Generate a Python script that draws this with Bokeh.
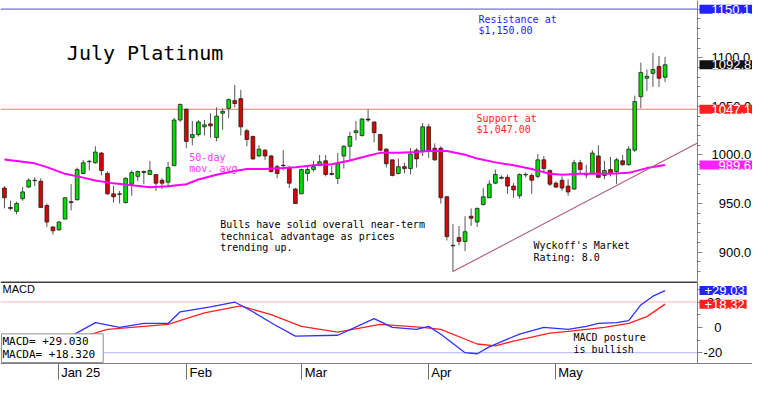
from bokeh.plotting import figure
from bokeh.layouts import column
from bokeh.models import (Range1d, LinearAxis, FixedTicker, Label, ColumnDataSource)
from bokeh.embed import file_html
from bokeh.resources import INLINE

# ---------------- data ----------------
open_ = [966, 946, 942, 955, 967, 973.5, 973, 948, 926, 923,
         934, 952, 954, 981, 993, 992, 1002, 981, 960, 960,
         951, 970, 978, 983, 980, 980, 974, 972, 989, 1036,
         1047, 1018, 1021, 1029, 1032, 1018, 1043, 1048, 1056, 1058,
         1025, 1019, 999, 1005, 999, 988, 989.5, 987, 965, 960,
         981, 985, 989, 994, 981, 976, 999, 1009, 1023, 1020,
         1037, 1034, 1021, 1006, 995, 981, 988, 986, 1005, 1004,
         1029, 1007, 1007, 957, 907, 915, 911, 937, 931, 949,
         956, 971, 976, 977, 968, 958, 979.5, 979, 978, 995,
         984, 971, 974, 968, 965, 992, 979.5, 981, 999, 979,
         985, 983, 994, 990, 1005, 1060, 1079, 1084, 1091, 1080]
high = [968, 953, 952, 967, 976, 977, 976, 950, 926, 932,
        956, 970, 987, 995, 995, 1009, 1003, 983, 968, 963,
        977, 984, 984, 984, 994, 980, 976, 993, 1038, 1053,
        1048, 1035, 1036, 1036, 1043, 1049, 1048, 1058, 1072, 1067,
        1027, 1020, 1010, 1006, 1000, 990, 1005, 989, 966, 986,
        988, 994, 1000, 1000, 989, 1002, 1010, 1024, 1035, 1038,
        1047, 1034, 1022, 1007, 995, 996, 992, 1007, 1007, 1033,
        1032, 1012, 1009, 958, 929, 927, 937, 945, 946, 966,
        974, 985, 979, 980, 971, 981, 982, 981, 1001, 999,
        985, 973, 978, 975, 995, 995, 990, 1005, 1010, 994,
        998, 997, 1000, 1009, 1061, 1095, 1088, 1105, 1102, 1101]
low = [945, 943, 939, 953, 966, 968, 946, 926, 918, 922,
       934, 943, 953, 980, 984, 991, 979, 959, 951, 950,
       950, 958, 973, 970, 980, 963, 965, 968, 989, 1034,
       1007, 1010, 1019, 1020, 1018, 1014, 1026, 1038, 1049, 1020,
       1009, 995, 998, 995, 982, 976, 984, 966, 950, 960,
       973, 983, 989, 978, 979, 970, 986, 995, 1015, 1019,
       1034, 1013, 1004, 987, 978, 980, 981, 980, 987, 999,
       997, 994, 950, 912, 880, 907, 901, 927, 926, 948,
       956, 970, 975, 960, 956, 955, 977, 960, 976, 983,
       968, 966, 963, 958, 964, 981, 976, 980, 976, 975,
       978, 970, 989, 989, 1003, 1048, 1066, 1070, 1070, 1075]
close = [956, 945, 950, 962, 974, 974, 946, 931, 922, 931,
         956, 951, 985, 992, 993.5, 1003, 984, 960, 957, 959.5,
         976, 982, 983, 982, 984, 971, 971, 987, 1036, 1052,
         1014, 1021, 1034, 1031, 1030, 1040, 1045, 1057, 1053, 1029,
         1016, 996, 1006, 999, 983, 981, 989, 971, 950, 985,
         985, 988, 993, 980, 980, 991, 1009, 1019, 1025, 1037,
         1036, 1023, 1005, 991, 979, 988, 986, 1001, 996, 1029,
         1004, 995, 956, 916, 906.5, 911, 921, 935, 945, 957,
         970, 980, 977, 968, 964, 980, 980, 974, 995, 986,
         970, 967, 966, 962, 992, 985, 980, 1002, 977, 984,
         981, 995, 990, 1006, 1055, 1085, 1081, 1088, 1079, 1092.8]

# 50-day moving average, sampled points (trading-day index, price)
ma_idx = [0, 5, 7, 10, 13, 15, 18, 21, 24, 27, 30, 32, 35, 38, 40, 43, 46, 48,
          51, 54, 57, 60, 62, 65, 68, 70, 73, 76, 78, 81, 84, 87, 90, 92, 95,
          98, 100, 103, 106, 109]
ma_val = [995.3, 991.4, 987.5, 980.6, 976.7, 973.8, 970.8, 968.9, 966.9, 967.9,
          969.9, 974.8, 979.7, 983.6, 985.5, 985.5, 986.5, 987.5, 989.5, 990.4,
          994.4, 999.3, 1002.2, 1002.2, 1003.2, 1004.2, 1004.2, 1000.2, 996.3, 992.4,
          989.5, 985.5, 980.6, 979.7, 980.6, 980.6, 980.6, 981.6, 986.5, 989.6]

# MACD (blue) and its average MACDA (red), sampled points
macd_idx = [0, 3, 5, 7, 9, 11, 15, 19, 23, 27, 29, 34, 38, 41, 44.5, 48, 55, 61,
            64, 68, 70, 72, 76, 78, 80, 83, 85, 89, 93, 96, 98, 101, 103, 105, 107, 109]
macd_val = [-11.5, -8.5, -6.2, -9.2, -10.8, -6.9, 3.8, 0.0, 3.1, 3.1, 12.3, 16.2,
            20.0, 12.3, 2.3, -6.9, -6.2, 6.9, 0.0, -1.5, 0.8, -5.4, -20.0, -20.8,
            -15.4, -9.2, -5.4, 0.0, -1.5, 0.8, 3.1, 3.8, 5.4, 17.7, 24.6, 29.03]
macda_idx = [0, 5, 11, 17, 27, 33, 39, 44, 49, 55, 62, 69, 72, 78, 81, 84, 90,
             93, 99, 103, 106, 109]
macda_val = [-10.0, -9.2, -10.0, -1.5, 2.3, 11.5, 16.9, 10.0, 0.8, -3.8, 2.3, 0.0,
             -1.5, -13.1, -14.6, -10.8, -4.6, -3.1, 0.0, 3.1, 8.5, 18.32]

# month ticks (trading-day index of first session) and their labels
month_ticks = [9, 30, 49, 70, 91]
month_labels = ["Jan 25", "Feb", "Mar", "Apr", "May"]

price_ticks = [900, 950, 1000, 1050, 1100, 1150]
price_tick_labels = ["900.0", "950.0", "1000.0", "1050.0", "1100.0", "1150.0"]
macd_ticks = [-20, 0, 20]
macd_tick_labels = ["-20", "0", "20"]

resistance_level = 1150.1
support_level = 1047.1
last_close = 1092.8
last_ma = 989.6
last_macd = 29.03
last_macda = 18.32
macd_band = [20, -20]

# trend line drawn on the chart (index, price)
trend_idx = [74, 114.35]
trend_val = [880, 1012.4]

# ---------------- layout constants ----------------
NB = "\u00a0"
XMIN, XMAX = -0.65, 114.35          # data area of the chart
PLOT_W, FULL_W = 697, 752           # data area width / full frame width (incl. value scale)
XFULL = XMIN + (XMAX - XMIN) * FULL_W / PLOT_W
x_range = Range1d(XMIN, XFULL)

# right-alignment / left-offset paddings for tick labels (style only)
price_pad = [2, 2, 0, 0, 0, 0]
macd_pad = [0, 3, 1]
month_pad = [12, 8, 8, 7, 8]

mono = "DejaVu Sans Mono"


def style_value_axis(ax, standoff):
    ax.axis_line_color = "#808080"
    ax.major_tick_out = 5
    ax.major_tick_in = 0
    ax.minor_tick_out = 3
    ax.minor_tick_in = 0
    ax.major_tick_line_color = "#808080"
    ax.minor_tick_line_color = "#808080"
    ax.major_label_text_font = "Liberation Sans"
    ax.major_label_text_font_size = "13px"
    ax.major_label_text_color = "black"
    ax.major_label_standoff = standoff


def note(fig, x, y, text, color="black", size="10px", baseline="top"):
    fig.add_layout(Label(x=x, y=y, text=text, text_color=color, text_font=mono,
                         text_font_size=size, text_baseline=baseline,
                         text_align="left", text_line_height=1.05))


def value_box(fig, y, text, color, pad_left):
    fig.add_layout(Label(x=XMAX, y=y, x_offset=2, text=text, text_color="white",
                         text_font="Liberation Sans", text_font_size="13px",
                         text_baseline="middle", text_align="left",
                         background_fill_color=color,
                         padding=dict(left=pad_left, right=2, top=0, bottom=0)))


# ---------------- price panel ----------------
p = figure(frame_width=FULL_W, frame_height=281, x_range=x_range,
           y_range=Range1d(869.8, 1159.0), output_backend="svg",
           toolbar_location=None, x_axis_location=None, y_axis_location=None,
           min_border_left=0, min_border_right=0, min_border_top=0,
           min_border_bottom=0, outline_line_color=None)
p.grid.visible = False

yr = LinearAxis(ticker=FixedTicker(ticks=price_ticks,
                                   minor_ticks=list(range(870, 1160, 10))),
                major_label_overrides={t: NB * n + l for t, l, n in
                                       zip(price_ticks, price_tick_labels, price_pad)},
                fixed_location=XMAX)
style_value_axis(yr, 9)
p.add_layout(yr, "right")

# resistance / support lines
p.segment(x0=[XMIN, XMIN], x1=[XMAX, XMAX],
          y0=[resistance_level, support_level], y1=[resistance_level, support_level],
          line_color=["#6f6ff0", "#ff7070"], line_width=1.2)

# candles
xs = list(range(len(close)))
inc = [c >= o for o, c in zip(open_, close)]
src = ColumnDataSource(dict(
    x=xs, high=high, low=low,
    top=[max(o, c) for o, c in zip(open_, close)],
    bottom=[min(o, c) for o, c in zip(open_, close)],
    color=["#00dd00" if i else "#dd0000" for i in inc]))
p.segment(x0="x", y0="high", x1="x", y1="low", source=src,
          line_color="#555555", line_width=1)
p.vbar(x="x", width=0.62, top="top", bottom="bottom", source=src,
       fill_color="color", line_color="#202020", line_width=0.8)

p.line(ma_idx, ma_val, line_color="#ff00ff", line_width=2)
p.line(trend_idx, trend_val, line_color="#b0607f", line_width=1.2)

note(p, 10.3, 1105, "July Platinum", size="20px", baseline="middle")
note(p, 78.2, 1145.5, "Resistance at\n$1,150.00", color="#2222ff")
note(p, 77.9, 1043.5, "Support at\n$1,047.00", color="#ff2222")
note(p, 30.5, 1003.5, "50-day\nmov. avg", color="#ff33ff")
note(p, 35.6, 934, "Bulls have solid overall near-term\ntechnical advantage as prices\ntrending up.")
note(p, 87.3, 912, "Wyckoff's Market\nRating: 8.0")

value_box(p, resistance_level, "%.1f" % resistance_level, "#2323ff", 12)
value_box(p, last_close, "%.1f" % last_close, "#111111", 12)
value_box(p, support_level, "%.1f" % support_level, "#ff2020", 12)
value_box(p, last_ma, "%.1f" % last_ma, "#ff22ff", 19)

# ---------------- MACD panel ----------------
m = figure(frame_width=FULL_W, frame_height=82, x_range=x_range,
           y_range=Range1d(-28.5, 36.2), output_backend="svg",
           toolbar_location=None, x_axis_location=None, y_axis_location=None,
           min_border_left=0, min_border_right=0, min_border_top=0,
           min_border_bottom=16, outline_line_color=None)
m.grid.visible = False

# panel top border and the +20 / -20 guide lines
m.segment(x0=[XMIN] * 3, x1=[XMAX] * 3, y0=[35.8] + macd_band, y1=[35.8] + macd_band,
          line_color=["black", "#ffb4b4", "#b4b4ff"], line_width=[1.5, 1, 1])

m.line(macda_idx, macda_val, line_color="#ff2020", line_width=1.3)
m.line(macd_idx, macd_val, line_color="#3030ff", line_width=1.3)

mr = LinearAxis(ticker=FixedTicker(ticks=macd_ticks, minor_ticks=[-30, -10, 10, 30]),
                major_label_overrides={t: NB * n + l for t, l, n in
                                       zip(macd_ticks, macd_tick_labels, macd_pad)},
                fixed_location=XMAX)
style_value_axis(mr, 1)
m.add_layout(mr, "right")

xb = LinearAxis(ticker=FixedTicker(ticks=month_ticks),
                major_label_overrides={t: NB * n + l for t, l, n in
                                       zip(month_ticks, month_labels, month_pad)})
xb.axis_line_color = "#808080"
xb.major_tick_out = 16
xb.major_tick_in = 0
xb.major_tick_line_color = "#707070"
xb.minor_tick_line_color = None
xb.major_label_standoff = -15
xb.major_label_text_font = "Liberation Sans"
xb.major_label_text_font_size = "13px"
xb.major_label_text_color = "black"
m.add_layout(xb, "below")

m.add_layout(Label(x=XMIN, y=35.0, x_offset=2, text="MACD", text_font="Liberation Sans",
                   text_font_size="11px", text_baseline="top", text_color="black"))
m.add_layout(Label(x=XMIN, y=-28.5, x_offset=1, y_offset=1,
                   text="MACD=  +%.3f\nMACDA= +%.3f" % (last_macd, last_macda),
                   text_font=mono, text_font_size="11px", text_baseline="bottom",
                   text_color="black", text_line_height=1.05,
                   background_fill_color="white", border_line_color="#909090",
                   padding=dict(left=1, right=8, top=1, bottom=1)))
note(m, 93.9, -4.0, "MACD posture\nis bullish")

value_box(m, last_macd, "+%.2f" % last_macd, "#2323ff", 5)
value_box(m, last_macda, "+%.2f" % last_macda, "#ff2020", 5)

layout = column(p, m, spacing=0)
open("out.html", "w").write(file_html(layout, INLINE))
